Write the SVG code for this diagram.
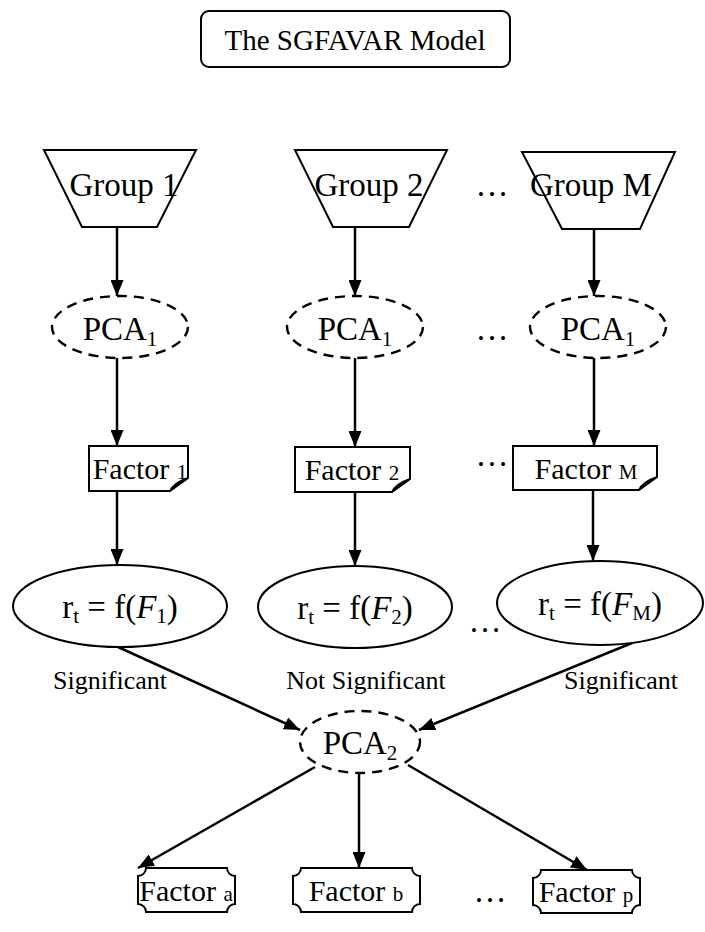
<svg xmlns="http://www.w3.org/2000/svg" width="705" height="932" viewBox="0 0 705 932">
<style>
text{font-family:"Liberation Serif","Times New Roman",serif;fill:#000}
.n{font-size:33px;text-anchor:middle}
.t{font-size:29px;text-anchor:middle}
.f{font-size:30px;text-anchor:middle}
.s{font-size:21px}
.lab{font-size:26px;text-anchor:middle}
.sh{fill:#fff;stroke:#000;stroke-width:2}
.d{fill:#fff;stroke:#000;stroke-width:2.4;stroke-dasharray:10 7}
.c{stroke:#000;stroke-width:2.5;fill:none;marker-end:url(#ah)}
</style>
<defs>
<marker id="ah" markerWidth="16" markerHeight="13" refX="16" refY="6.5" orient="auto" markerUnits="userSpaceOnUse">
<path d="M0,0 L16,6.5 L0,13 Z" fill="#000"/>
</marker>
</defs>
<g id="connectors">
<line class="c" x1="117" y1="227" x2="117" y2="296"/>
<line class="c" x1="355" y1="227" x2="355" y2="296"/>
<line class="c" x1="594" y1="228" x2="594" y2="296"/>
<line class="c" x1="117" y1="358" x2="117" y2="446"/>
<line class="c" x1="355" y1="358" x2="355" y2="447"/>
<line class="c" x1="594" y1="358" x2="594" y2="446"/>
<line class="c" x1="117" y1="491" x2="117" y2="565"/>
<line class="c" x1="355" y1="492" x2="355" y2="566"/>
<line class="c" x1="593" y1="490" x2="593" y2="561"/>
<line class="c" x1="118" y1="647" x2="300" y2="730"/>
<line class="c" x1="632" y1="643" x2="419" y2="730"/>
<line class="c" x1="315" y1="767" x2="138" y2="868"/>
<line class="c" x1="359" y1="773" x2="359" y2="868"/>
<line class="c" x1="408" y1="765" x2="587" y2="870"/>
</g>
<g id="title">
<rect class="sh" x="201" y="11" width="309" height="56" rx="8"/>
<text class="t" x="355" y="50">The SGFAVAR Model</text>
</g>
<g id="group1">
<path class="sh" d="M44,150 H196 L157,227 H82 Z"/>
<text class="n" x="124" y="196">Group 1</text>
</g>
<g id="group2">
<path class="sh" d="M295,150 H447 L409,227 H333 Z"/>
<text class="n" x="369" y="196">Group 2</text>
</g>
<g id="groupM">
<path class="sh" d="M522,152 H675 L640,229 H562 Z"/>
<text class="n" x="591" y="196">Group M</text>
</g>
<text class="n" x="492" y="196">…</text>
<g id="pca1a">
<ellipse class="d" cx="120" cy="327" rx="68" ry="31"/>
<text class="n" x="120" y="340">PCA<tspan class="s" dy="6">1</tspan></text>
</g>
<g id="pca1b">
<ellipse class="d" cx="355" cy="327" rx="68" ry="31"/>
<text class="n" x="355" y="340">PCA<tspan class="s" dy="6">1</tspan></text>
</g>
<g id="pca1c">
<ellipse class="d" cx="598" cy="327" rx="68" ry="31"/>
<text class="n" x="598" y="340">PCA<tspan class="s" dy="6">1</tspan></text>
</g>
<text class="n" x="492" y="340">…</text>
<g id="factor1">
<path class="sh" d="M89,446 H188 V478 L170,491 H89 Z M170,491 Q174,483 188,478"/>
<text class="f" x="140" y="479">Factor <tspan class="s">1</tspan></text>
</g>
<g id="factor2">
<path class="sh" d="M295,447 H410 V479 L392,492 H295 Z M392,492 Q396,484 410,479"/>
<text class="f" x="352" y="480">Factor <tspan class="s">2</tspan></text>
</g>
<g id="factorM">
<path class="sh" d="M513,446 H657 V477 L639,490 H513 Z M639,490 Q643,482 657,477"/>
<text class="f" x="586" y="479">Factor <tspan class="s">M</tspan></text>
</g>
<text class="n" x="492" y="466">…</text>
<g id="rt1">
<ellipse class="sh" cx="120" cy="606" rx="107" ry="41"/>
<text class="n" x="120" y="618">r<tspan class="s" dy="5">t</tspan><tspan dy="-5"> = f(</tspan><tspan font-style="italic">F</tspan><tspan class="s" dy="5">1</tspan><tspan dy="-5">)</tspan></text>
</g>
<g id="rt2">
<ellipse class="sh" cx="355" cy="607" rx="97" ry="41"/>
<text class="n" x="355" y="619">r<tspan class="s" dy="5">t</tspan><tspan dy="-5"> = f(</tspan><tspan font-style="italic">F</tspan><tspan class="s" dy="5">2</tspan><tspan dy="-5">)</tspan></text>
</g>
<g id="rtM">
<ellipse class="sh" cx="600" cy="603" rx="103" ry="42"/>
<text class="n" x="600" y="615">r<tspan class="s" dy="5">t</tspan><tspan dy="-5"> = f(</tspan><tspan font-style="italic">F</tspan><tspan class="s" dy="5">M</tspan><tspan dy="-5">)</tspan></text>
</g>
<text class="n" x="485" y="632">…</text>
<text class="lab" x="110" y="689">Significant</text>
<text class="lab" x="366" y="689">Not Significant</text>
<text class="lab" x="621" y="689">Significant</text>
<g id="pca2">
<ellipse class="d" cx="360" cy="742" rx="60" ry="31"/>
<text class="n" x="360" y="754">PCA<tspan class="s" dy="6">2</tspan></text>
</g>
<g id="factora">
<path class="sh" d="M146,868 H227 A8,8 0 0 0 235,876 V904 A8,8 0 0 0 227,912 H146 A8,8 0 0 0 138,904 V876 A8,8 0 0 0 146,868 Z"/>
<text class="f" x="186" y="901">Factor <tspan class="s">a</tspan></text>
</g>
<g id="factorb">
<path class="sh" d="M301,868 H412 A8,8 0 0 0 420,876 V904 A8,8 0 0 0 412,912 H301 A8,8 0 0 0 293,904 V876 A8,8 0 0 0 301,868 Z"/>
<text class="f" x="356" y="901">Factor <tspan class="s">b</tspan></text>
</g>
<g id="factorp">
<path class="sh" d="M541,870 H632 A8,8 0 0 0 640,878 V905 A8,8 0 0 0 632,913 H541 A8,8 0 0 0 533,905 V878 A8,8 0 0 0 541,870 Z"/>
<text class="f" x="586" y="902">Factor <tspan class="s">p</tspan></text>
</g>
<text class="n" x="490" y="902">…</text>
</svg>
